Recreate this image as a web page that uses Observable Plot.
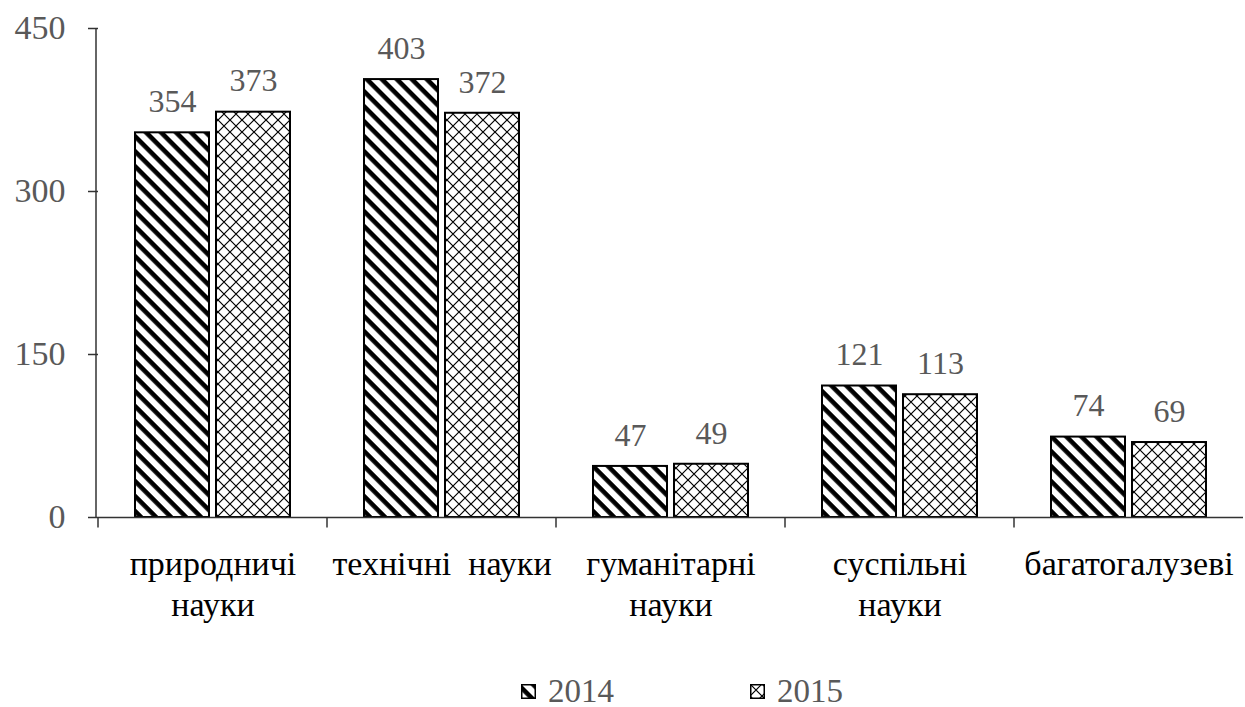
<!DOCTYPE html>
<html><head><meta charset="utf-8">
<script src="https://cdn.jsdelivr.net/npm/d3@7"></script>
<script src="https://cdn.jsdelivr.net/npm/@observablehq/plot@0.6"></script>
<style>
html,body{margin:0;padding:0;background:#fff;overflow:hidden;}
#chart svg, #chart svg text{font-family:'Liberation Serif','Times New Roman',Times,serif !important;}
#legend{position:relative;height:31px;font-family:'Liberation Serif','Times New Roman',serif;font-size:33px;line-height:31px;color:#595959;}
.item{position:absolute;top:0;display:flex;align-items:center;height:31px;white-space:nowrap;}
.item svg{margin-right:12px;}
</style></head><body>
<div id="chart"></div>
<div id="legend"></div>
<script>
const categories = ["природничі науки","технічні науки","гуманітарні науки","суспільні науки","багатогалузеві"];
const categoryLabels = ["природничі\nнауки","технічні  науки","гуманітарні\nнауки","суспільні\nнауки","багатогалузеві"];
const years = ["2014","2015"];
const values2014 = [354,403,47,121,74];
const values2015 = [373,372,49,113,69];
const yTicks = [0,150,300,450];

const patternOf = {"2014": "url(#stripe)", "2015": "url(#cross)"};
const data = [];
categories.forEach((c,i) => {
  data.push({cat:c, year:"2014", value:values2014[i]});
  data.push({cat:c, year:"2015", value:values2015[i]});
});

function addPatterns(svg, prefix) {
  const defs = d3.select(svg).insert("defs", ":first-child");
  const p1 = defs.append("pattern").attr("id", prefix + "stripe").attr("patternUnits","userSpaceOnUse")
    .attr("width",10.6).attr("height",10.6).attr("patternTransform","rotate(45)");
  p1.append("rect").attr("width",10.6).attr("height",10.6).attr("fill","#fff");
  p1.append("rect").attr("width",10.6).attr("height",4.6).attr("fill","#000");
  const p2 = defs.append("pattern").attr("id", prefix + "cross").attr("patternUnits","userSpaceOnUse")
    .attr("width",12).attr("height",12);
  p2.append("rect").attr("width",12).attr("height",12).attr("fill","#fff");
  p2.append("path").attr("d","M0,0L12,12M12,0L0,12").attr("stroke","#000").attr("stroke-width",1.2).attr("fill","none");
}

const serif = "'Liberation Serif', 'Times New Roman', Times, serif";
const axisColor = "#333";
const plot = Plot.plot({
  width: 1245,
  height: 676,
  marginTop: 28,
  marginBottom: 159,
  marginLeft: 96,
  marginRight: 0,
  style: {fontFamily: serif, background: "#fff"},
  fx: {domain: categories, paddingInner: 0, paddingOuter: 0, label: null},
  x: {domain: years, paddingInner: 0.085, paddingOuter: 0.445, axis: null},
  y: {domain: [0, 450], label: null},
  color: {type: "identity"},
  marks: [
    Plot.barY(data, {fx: "cat", x: "year", y: "value", fill: d => patternOf[d.year], stroke: "#000", strokeWidth: 2}),
    Plot.ruleY([0], {stroke: axisColor, strokeWidth: 1.5,
      render(index, scales, values, dimensions, context, next) {
        const g = next(index, scales, values, dimensions, context);
        const ln = g.querySelector("line");
        let x0 = dimensions.marginLeft;
        if (ln && ln.getAttribute("x1") != null) x0 = +ln.getAttribute("x1");
        const y0 = scales.y(0);
        const t = document.createElementNS("http://www.w3.org/2000/svg", "line");
        t.setAttribute("x1", x0); t.setAttribute("x2", x0);
        t.setAttribute("y1", y0); t.setAttribute("y2", y0 + 10);
        t.setAttribute("stroke", axisColor); t.setAttribute("stroke-width", 1.5);
        g.appendChild(t);
        return g;
      }}),
    Plot.axisY({ticks: yTicks, tickSize: 10, tickPadding: 23, fontSize: 34, fontFamily: serif, fill: "#595959", stroke: axisColor, strokeWidth: 1.5, label: null}),
    Plot.axisFx({anchor: "bottom", tickSize: 0, tickPadding: 29, fontSize: 34, fontFamily: serif, fill: "#000", lineHeight: 1.2,
      tickFormat: d => categoryLabels[categories.indexOf(d)], label: null}),
    Plot.text(data, {fx: "cat", x: "year", y: "value", text: d => String(d.value), dy: -31, fill: "#595959", fontSize: 32, fontFamily: serif})
  ]
});
addPatterns(plot, "");
const ys = plot.scale("y");
d3.select(plot).append("line")
  .attr("x1", 96).attr("x2", 96)
  .attr("y1", ys.apply(450)).attr("y2", ys.apply(0))
  .attr("stroke", axisColor).attr("stroke-width", 1.5);
document.getElementById("chart").appendChild(plot);

const legend = document.getElementById("legend");
const legendLeft = {"2014": 521, "2015": 750};
years.forEach(y => {
  const item = document.createElement("div");
  item.className = "item";
  item.style.left = legendLeft[y] + "px";
  const sw = d3.create("svg").attr("width", 15).attr("height", 15);
  addPatterns(sw.node(), "lg" + y);
  sw.append("rect").attr("x", 0.75).attr("y", 0.75).attr("width", 13.5).attr("height", 13.5)
    .attr("fill", y === "2014" ? "url(#lg2014stripe)" : "url(#lg2015cross)").attr("stroke", "#000").attr("stroke-width", 1.5);
  item.appendChild(sw.node());
  const span = document.createElement("span");
  span.textContent = y;
  item.appendChild(span);
  legend.appendChild(item);
});
</script>
</body></html>
